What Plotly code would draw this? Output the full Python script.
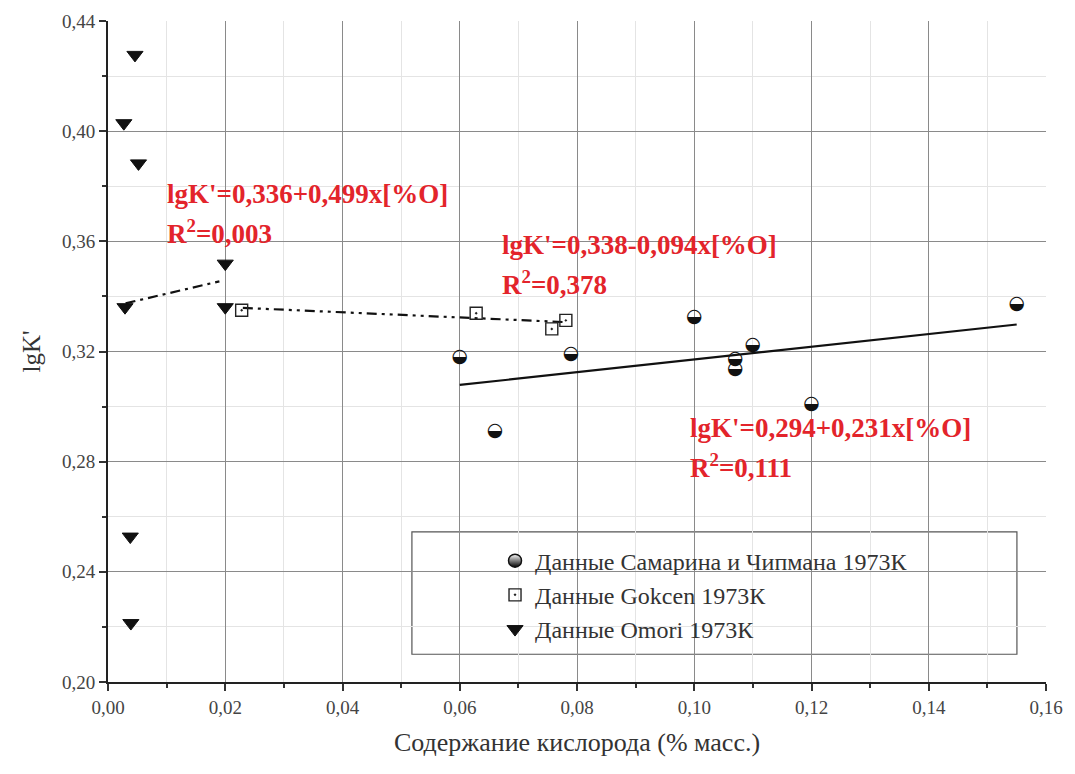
import numpy as np
import plotly.graph_objects as go

# --- data ---------------------------------------------------------------
samarin_x = [0.060, 0.066, 0.079, 0.100, 0.107, 0.107, 0.110, 0.120, 0.155]
samarin_y = [0.318, 0.291, 0.319, 0.3325, 0.3173, 0.3134, 0.3221, 0.3010, 0.3373]

gokcen_x = [0.0228, 0.0628, 0.0757, 0.0781]
gokcen_y = [0.3350, 0.3339, 0.3282, 0.3313]

omori_x = [0.0046, 0.0027, 0.0052, 0.0200, 0.0029, 0.0200, 0.0038, 0.0039]
omori_y = [0.4277, 0.4029, 0.3883, 0.3519, 0.3361, 0.3361, 0.2528, 0.2214]

# linear fits: intercept, slope, x-range
fit_samarin = (0.294, 0.231, (0.060, 0.155))
fit_gokcen = (0.338, -0.094, (0.023, 0.078))
fit_omori = (0.336, 0.499, (0.003, 0.019))

legend_names = ["Данные Самарина и Чипмана 1973К",
                "Данные Gokcen 1973К",
                "Данные Omori 1973К"]

x_title = "Содержание кислорода (% масс.)"
y_title = "lgK'"

RED = "#e3242b"
SERIF = "Liberation Serif, Times New Roman, serif"


def fit_line(fit):
    a, b, (x0, x1) = fit
    xs = np.array([x0, x1])
    return xs, a + b * xs


fig = go.Figure()

# regression lines
for fit, dash in [(fit_samarin, "solid"),
                  (fit_gokcen, "10px,5px,3px,5px,3px,5px"),
                  (fit_omori, "10px,5px,3px,5px")]:
    xs, ys = fit_line(fit)
    fig.add_trace(go.Scatter(x=xs, y=ys, mode="lines", showlegend=False,
                             line=dict(color="#111", width=2.2, dash=dash),
                             hoverinfo="skip"))

# half-filled circles drawn as glyphs at the data points
fig.add_trace(go.Scatter(
    x=samarin_x, y=samarin_y, mode="text", text=["◒"] * len(samarin_x),
    textposition="middle center", showlegend=False,
    textfont=dict(family="DejaVu Sans", size=19, color="#111")))
# legend entry for the circles
fig.add_trace(go.Scatter(
    x=[None], y=[None], mode="markers", name=legend_names[0],
    marker=dict(symbol="circle", size=13, color="white",
                gradient=dict(type="vertical", color="black"),
                line=dict(color="#111", width=1.5))))
fig.add_trace(go.Scatter(
    x=gokcen_x, y=gokcen_y, mode="markers", name=legend_names[1],
    marker=dict(symbol="square-open-dot", size=12, color="#222",
                line=dict(width=1.4))))
fig.add_trace(go.Scatter(
    x=omori_x, y=omori_y, mode="markers", name=legend_names[2],
    marker=dict(symbol="triangle-down", size=14, color="#111",
                line=dict(color="#111", width=1))))

# equations of the fits
eqs = [
    (0.0097, 0.3772, "lgK'=0,336+0,499x[%O]", "R<sup>2</sup>=0,003", 0.3634),
    (0.0669, 0.3587, "lgK'=0,338-0,094x[%O]", "R<sup>2</sup>=0,378", 0.3449),
    (0.0989, 0.2923, "lgK'=0,294+0,231x[%O]", "R<sup>2</sup>=0,111", 0.2785),
]
for x0, y0, t1, t2, y1 in eqs:
    fig.add_annotation(x=x0, y=y0, text="<b>" + t1 + "</b>", showarrow=False,
                       xanchor="left", yanchor="middle",
                       font=dict(family=SERIF, size=27, color=RED))
    fig.add_annotation(x=x0, y=y1, text="<b>" + t2 + "</b>", showarrow=False,
                       xanchor="left", yanchor="middle",
                       font=dict(family=SERIF, size=27, color=RED))

# legend frame
fig.add_shape(type="rect", xref="paper", yref="paper",
              x0=0.324, x1=0.969, y0=0.042, y1=0.227,
              line=dict(color="#555", width=1.2), fillcolor="white",
              layer="below")

axis_common = dict(
    showline=True, linecolor="#222", linewidth=2,
    ticks="outside", ticklen=7, tickwidth=1.5, tickcolor="#333",
    showgrid=True, gridcolor="#8a8a8a", gridwidth=1,
    zeroline=False, mirror=False,
    tickfont=dict(family=SERIF, size=19, color="#444"),
)

fig.update_xaxes(range=[0, 0.16], dtick=0.02, tickformat=".2f",
                 minor=dict(dtick=0.01, ticks="outside", ticklen=4,
                            tickcolor="#333", showgrid=True,
                            gridcolor="#e4e4e4", gridwidth=1),
                 title=dict(text=x_title, standoff=16,
                            font=dict(family=SERIF, size=26, color="#333")),
                 **axis_common)
fig.update_yaxes(range=[0.20, 0.44], dtick=0.04, tickformat=".2f",
                 minor=dict(dtick=0.02, ticks="outside", ticklen=4,
                            tickcolor="#333", showgrid=True,
                            gridcolor="#e4e4e4", gridwidth=1),
                 title=dict(text=y_title, standoff=14,
                            font=dict(family=SERIF, size=25, color="#333")),
                 **axis_common)

fig.update_layout(
    width=1075, height=774,
    margin=dict(l=108, r=29, t=21, b=92),
    paper_bgcolor="white", plot_bgcolor="white",
    separators=", ",
    showlegend=True,
    legend=dict(x=0.4126, y=0.217, xanchor="left", yanchor="top",
                bgcolor="rgba(0,0,0,0)", borderwidth=0,
                tracegroupgap=0,
                font=dict(family=SERIF, size=24, color="#333")),
)

fig.write_html("out.html")
